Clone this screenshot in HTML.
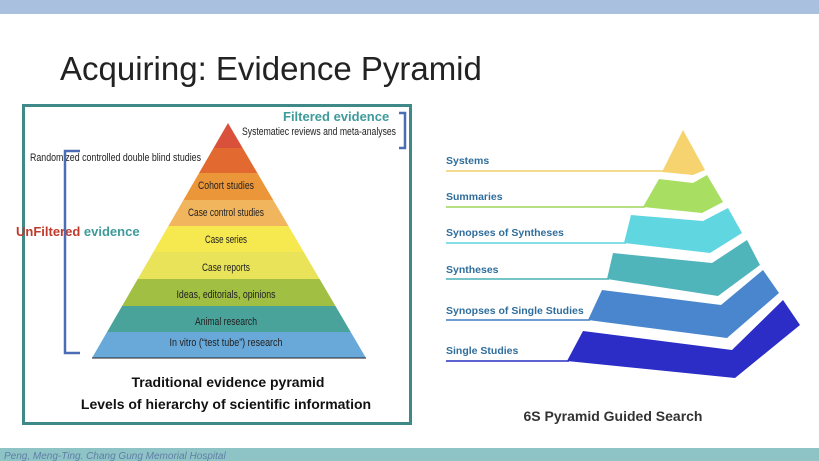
<!DOCTYPE html>
<html><head><meta charset="utf-8"><style>
html,body{margin:0;padding:0;background:#fff;}
svg{display:block;}
</style></head><body>
<svg width="819" height="461" viewBox="0 0 819 461" xmlns="http://www.w3.org/2000/svg" font-family="Liberation Sans, sans-serif">
<rect x="0" y="0" width="819" height="14" fill="#a9c1de"/>
<text x="60" y="80" font-size="33" fill="#222">Acquiring: Evidence Pyramid</text>
<rect x="23.5" y="105.5" width="387" height="318" fill="none" stroke="#3f8a88" stroke-width="3"/>
<defs><clipPath id="tri"><polygon points="228,123 92,358 366,358"/></clipPath></defs>
<g clip-path="url(#tri)">
<rect x="80" y="120" width="300" height="28" fill="#d9513b"/>
<rect x="80" y="148" width="300" height="25" fill="#e2692f"/>
<rect x="80" y="173" width="300" height="27" fill="#ec963a"/>
<rect x="80" y="200" width="300" height="26" fill="#f1b55e"/>
<rect x="80" y="226" width="300" height="26" fill="#f6e84f"/>
<rect x="80" y="252" width="300" height="27" fill="#e9e35a"/>
<rect x="80" y="279" width="300" height="27" fill="#a1bf43"/>
<rect x="80" y="306" width="300" height="26" fill="#4aa39b"/>
<rect x="80" y="332" width="300" height="26" fill="#68a9d9"/>
</g>
<line x1="92" y1="358" x2="366" y2="358" stroke="#222" stroke-width="1"/>
<g font-size="11" fill="#222" text-anchor="middle">
<text x="226" y="189" textLength="56" lengthAdjust="spacingAndGlyphs">Cohort studies</text>
<text x="226" y="216" textLength="76" lengthAdjust="spacingAndGlyphs">Case control studies</text>
<text x="226" y="243" textLength="42" lengthAdjust="spacingAndGlyphs">Case series</text>
<text x="226" y="271" textLength="48" lengthAdjust="spacingAndGlyphs">Case reports</text>
<text x="226" y="298" textLength="99" lengthAdjust="spacingAndGlyphs">Ideas, editorials, opinions</text>
<text x="226" y="325" textLength="62" lengthAdjust="spacingAndGlyphs">Animal research</text>
<text x="226" y="346" textLength="113" lengthAdjust="spacingAndGlyphs">In vitro (“test tube”) research</text>
</g>
<text x="30" y="161" font-size="11" fill="#222" textLength="171" lengthAdjust="spacingAndGlyphs">Randomized controlled double blind studies</text>
<text x="242" y="135" font-size="11" fill="#222" textLength="154" lengthAdjust="spacingAndGlyphs">Systematiec reviews and meta-analyses</text>
<text x="283" y="121" font-size="13" font-weight="bold" fill="#3f9a9a">Filtered evidence</text>
<text x="16" y="236" font-size="13" font-weight="bold"><tspan fill="#c0392b">UnFiltered</tspan><tspan fill="#3f9a9a"> evidence</tspan></text>
<path d="M80,151 H65 V353 H80" fill="none" stroke="#4a6db5" stroke-width="2.5"/>
<path d="M399,113 H405 V148 H399" fill="none" stroke="#4a6db5" stroke-width="2.5"/>
<g font-size="14" font-weight="bold" fill="#111" text-anchor="middle">
<text x="228" y="387">Traditional evidence pyramid</text>
<text x="226" y="409">Levels of hierarchy of scientific information</text>
</g>
<!-- 6S pyramid -->
<g stroke-width="1.5">
<line x1="446" y1="171" x2="664" y2="171" stroke="#f2cf6c"/>
<line x1="446" y1="207" x2="645" y2="207" stroke="#9ed45a"/>
<line x1="446" y1="243" x2="626" y2="243" stroke="#5fd3de"/>
<line x1="446" y1="279" x2="609" y2="279" stroke="#4ab0b5"/>
<line x1="446" y1="320" x2="590" y2="320" stroke="#3f7fc2"/>
<line x1="446" y1="361" x2="569" y2="361" stroke="#2a2fc4"/>
</g>
<polygon points="683,130 705,170 693,175 662,172" fill="#f6d36e"/>
<polygon points="659,179 693,183 707,175 723,202 702,213 643,207" fill="#a8df62"/>
<polygon points="631,215 703,221 728,208 742,233 710,253 624,243" fill="#5fd6e0"/>
<polygon points="613,253 712,263 747,240 760,265 718,296 607,279" fill="#50b5bb"/>
<polygon points="602,290 721,305 763,270 779,293 727,338 588,320" fill="#4a86cd"/>
<polygon points="583,331 732,350 783,300 800,325 735,378 567,361" fill="#2b2dc6"/>
<g font-size="10.5" font-weight="bold" fill="#2f6e9c">
<text x="446" y="164">Systems</text>
<text x="446" y="200">Summaries</text>
<text x="446" y="236">Synopses of Syntheses</text>
<text x="446" y="273">Syntheses</text>
<text x="446" y="314">Synopses of Single Studies</text>
<text x="446" y="354">Single Studies</text>
</g>
<text x="613" y="421" font-size="14" font-weight="bold" fill="#333" text-anchor="middle">6S Pyramid Guided Search</text>
<rect x="0" y="448" width="819" height="13" fill="#8fc4c6"/>
<text x="4" y="459" font-size="10" font-style="italic" fill="#5f7ea6">Peng, Meng-Ting. Chang Gung Memorial Hospital</text>
</svg>
</body></html>
